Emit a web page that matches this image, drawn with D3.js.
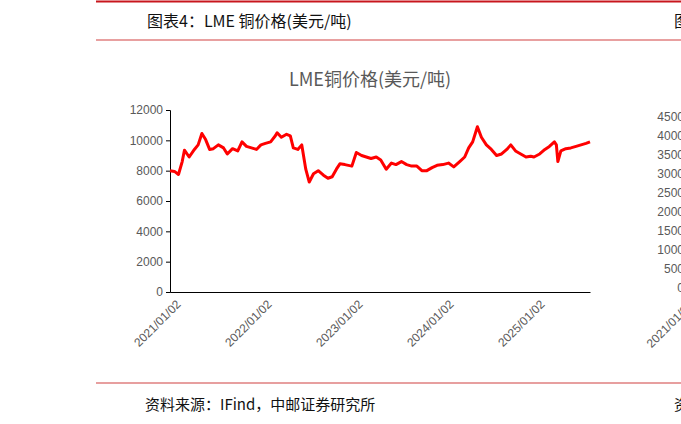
<!DOCTYPE html>
<html><head><meta charset="utf-8">
<script src="https://cdn.jsdelivr.net/npm/d3@7"></script>
<style>body{margin:0;background:#fff}svg{display:block}</style>
</head><body>
<svg id="c" width="681" height="424"></svg>
<script>
// LME copper price, USD/t
const dates = ["2021-01-02","2021-01-20","2021-02-05","2021-02-20","2021-03-01","2021-03-20","2021-04-10","2021-04-25","2021-05-10","2021-05-25","2021-06-10","2021-06-25","2021-07-15","2021-08-05","2021-08-20","2021-09-10","2021-10-01","2021-10-18","2021-11-05","2021-11-25","2021-12-15","2022-01-02","2022-01-20","2022-02-10","2022-03-01","2022-03-08","2022-03-25","2022-04-15","2022-04-30","2022-05-12","2022-05-30","2022-06-15","2022-07-01","2022-07-15","2022-08-01","2022-08-20","2022-09-10","2022-09-28","2022-10-15","2022-11-01","2022-11-15","2022-12-05","2023-01-02","2023-01-20","2023-02-10","2023-03-01","2023-03-20","2023-04-10","2023-04-28","2023-05-20","2023-06-10","2023-06-28","2023-07-20","2023-08-10","2023-08-30","2023-09-20","2023-10-10","2023-10-30","2023-11-20","2023-12-10","2024-01-02","2024-01-25","2024-02-15","2024-03-10","2024-03-30","2024-04-15","2024-05-01","2024-05-20","2024-06-05","2024-06-25","2024-07-15","2024-08-05","2024-08-25","2024-09-15","2024-10-01","2024-10-20","2024-11-10","2024-12-01","2024-12-20","2025-01-02","2025-01-25","2025-02-15","2025-03-05","2025-03-25","2025-04-02","2025-04-08","2025-04-20","2025-05-10","2025-05-30","2025-06-20","2025-07-10","2025-07-30","2025-08-15"];
const prices = [8000,7950,7750,8600,9350,8900,9400,9700,10450,10050,9400,9450,9700,9500,9100,9450,9300,9900,9600,9500,9400,9700,9800,9900,10300,10500,10200,10400,10300,9500,9400,9700,8100,7250,7800,8000,7700,7500,7600,8100,8450,8400,8300,9200,9000,8900,8800,8900,8700,8100,8500,8400,8600,8400,8300,8300,8000,8000,8200,8350,8400,8500,8250,8600,8900,9500,9900,10900,10200,9700,9400,9000,9100,9400,9700,9300,9100,8900,8950,8900,9100,9400,9600,9900,9700,8600,9300,9450,9500,9600,9700,9800,9900];
const yTicks = [0,2000,4000,6000,8000,10000,12000];
const xTicks = ["2021/01/02","2022/01/02","2023/01/02","2024/01/02","2025/01/02"];
const nextTicks = [0,500,1000,1500,2000,2500,3000,3500,4000,4500];

const svg = d3.select("#c");
const font = "'Noto Sans CJK SC', sans-serif";
const parse = d3.timeParse("%Y-%m-%d");
const parseTick = d3.timeParse("%Y/%m/%d");

// frame lines
svg.append("line").attr("x1",96).attr("x2",681).attr("y1",1.5).attr("y2",1.5).attr("stroke","#c8161d").attr("stroke-width",2);
svg.append("line").attr("x1",96).attr("x2",681).attr("y1",40).attr("y2",40).attr("stroke","#e08080").attr("stroke-width",1.5);
svg.append("line").attr("x1",96).attr("x2",681).attr("y1",383).attr("y2",383).attr("stroke","#d04040").attr("stroke-width",1.2);
svg.append("text").attr("x",147).attr("y",27).attr("font-family",font).attr("font-size",16).attr("fill","#111").text("图表4：LME 铜价格(美元/吨)");
svg.append("text").attr("x",145).attr("y",410).attr("font-family",font).attr("font-size",15).attr("fill","#111").text("资料来源：IFind，中邮证券研究所");
svg.append("text").attr("x",674).attr("y",27).attr("font-family",font).attr("font-size",16).attr("fill","#111").text("图");
svg.append("text").attr("x",674).attr("y",410).attr("font-family",font).attr("font-size",15).attr("fill","#111").text("资");

svg.append("text").attr("x",370).attr("y",86).attr("text-anchor","middle").attr("font-family",font).attr("font-size",18).attr("fill","#595959").text("LME铜价格(美元/吨)");

const x = d3.scaleTime().domain([parse("2021-01-02"), parse("2025-08-15")]).range([170, 590]);
const y = d3.scaleLinear().domain([0,12000]).range([292,110]);

const ya = svg.append("g").attr("transform","translate(170,0)")
  .call(d3.axisLeft(y).tickValues(yTicks).tickSize(4).tickFormat(d3.format("d")));
ya.selectAll("text").attr("font-family","'Liberation Sans', sans-serif").attr("font-size",12).attr("fill","#595959");
ya.select(".domain").attr("stroke","#000");
ya.selectAll(".tick line").attr("stroke","#000");

const xa = svg.append("g").attr("transform","translate(0,292)")
  .call(d3.axisBottom(x).tickValues(xTicks.map(parseTick)).tickSize(0).tickFormat((d,i)=>xTicks[i]));
xa.select(".domain").attr("stroke","#000");
xa.selectAll("text").attr("font-family","'Liberation Sans', sans-serif").attr("font-size",12).attr("fill","#595959")
  .attr("text-anchor","end").attr("transform","translate(6,8) rotate(-45)").attr("dy","0.35em");

const pts = dates.map((d,i)=>[parse(d), prices[i]]);
svg.append("path").datum(pts).attr("fill","none").attr("stroke","#ff0000").attr("stroke-width",3)
  .attr("stroke-linejoin","round")
  .attr("d", d3.line().x(d=>x(d[0])).y(d=>y(d[1])));

// edge of the neighbouring chart
const y2 = d3.scaleLinear().domain([0,4500]).range([288,117]);
svg.append("g").selectAll("text").data(nextTicks).join("text")
  .attr("x",684).attr("y",d=>y2(d)+4).attr("text-anchor","end")
  .attr("font-family","'Liberation Sans', sans-serif").attr("font-size",12).attr("fill","#595959").text(d=>d);
svg.append("text").attr("transform","translate(688,300) rotate(-45)").attr("text-anchor","end").attr("dy","0.7em")
  .attr("font-family","'Liberation Sans', sans-serif").attr("font-size",12).attr("fill","#595959").text("2021/01/02");
</script>
</body></html>
